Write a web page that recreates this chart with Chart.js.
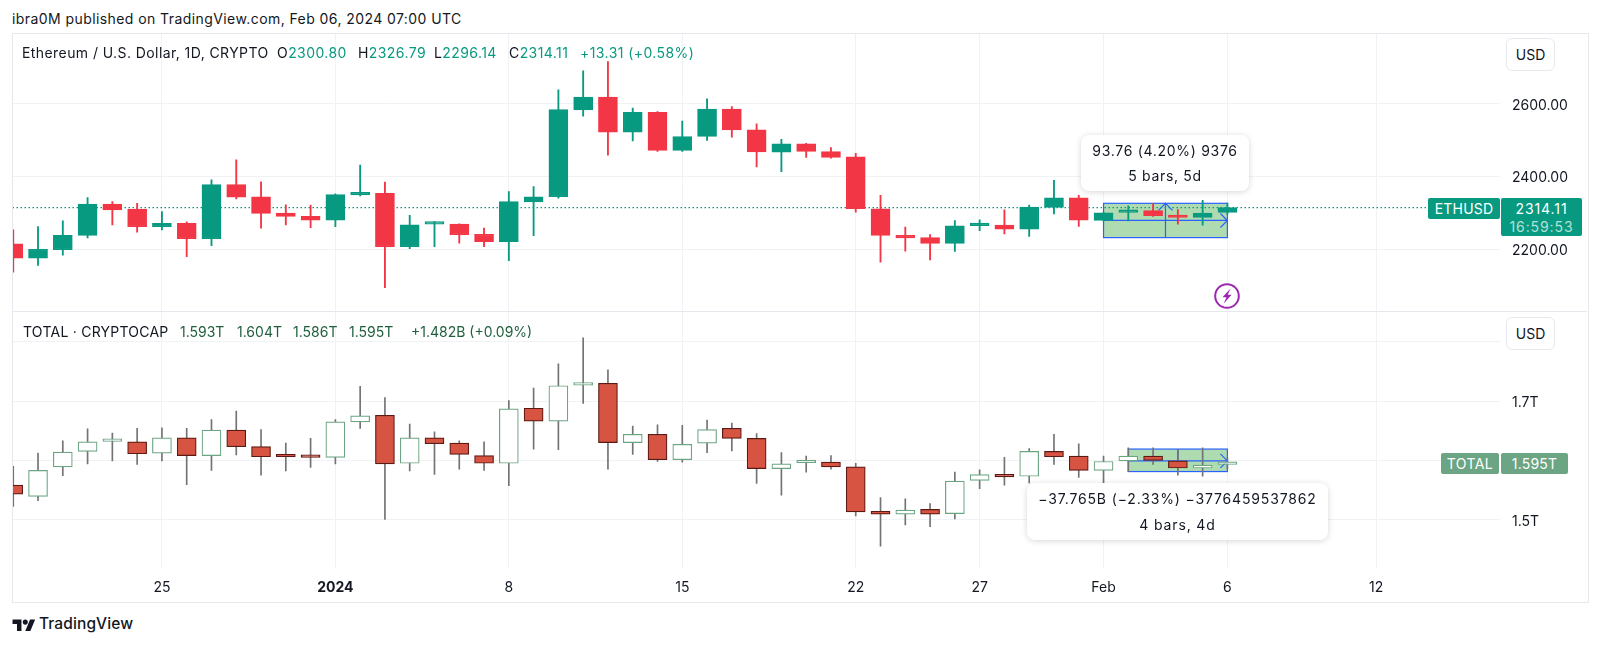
<!DOCTYPE html>
<html>
<head>
<meta charset="utf-8">
<title>ETHUSD vs TOTAL</title>
<script src="https://cdn.jsdelivr.net/npm/chart.js@4"></script>
<style>
  html, body { margin: 0; padding: 0; background: #fff; }
  body { width: 1600px; height: 646px; position: relative; overflow: hidden; font-family: Inter, "Noto Sans", sans-serif; color: #131722; font-size: 14px; }
  canvas { position: absolute; left: 0; }
  .t { position: absolute; white-space: nowrap; line-height: 18px; letter-spacing: .42px; }
  .up { color: #089981; }
  .dk { color: #1f5f3d; letter-spacing: 0; }
  .frame { position: absolute; left: 12px; top: 33px; width: 1575px; height: 568px; border: 1px solid #e6e8ee; box-sizing: content-box; }
  .sep { position: absolute; left: 12px; top: 311px; width: 1575px; height: 1px; background: #e6e8ee; }
  .usd { position: absolute; left: 1506px; width: 47px; height: 31px; border: 1px solid #e6e8ee; border-radius: 6px; text-align: center; line-height: 31px; background: #fff; }
  .pill { position: absolute; color: #fff; text-align: center; border-radius: 2px; }
  .tip { position: absolute; background: #fff; border-radius: 8px; box-shadow: 0 1px 6px rgba(0,0,0,.16); text-align: center; }
  .tip div { position: absolute; left: 0; right: 0; line-height: 18px; }
</style>
</head>
<body>
<div class="t" style="left:12px;top:10px">ibra0M published on TradingView.com, Feb 06, 2024 07:00 UTC</div>

<canvas id="ethChart" width="1587" height="279" style="top:33px"></canvas>
<canvas id="totalChart" width="1587" height="290" style="top:312px"></canvas>
<div class="frame"></div>
<div class="sep"></div>

<div class="t" style="left:22px;top:44px">Ethereum / U.S. Dollar, 1D, CRYPTO</div>
<div class="t" style="left:277px;top:44px">O<span class="up">2300.80</span></div>
<div class="t" style="left:358px;top:44px">H<span class="up">2326.79</span></div>
<div class="t" style="left:434px;top:44px">L<span class="up">2296.14</span></div>
<div class="t" style="left:509px;top:44px">C<span class="up">2314.11</span></div>
<div class="t up" style="left:580px;top:44px">+13.31 (+0.58%)</div>

<div class="t" style="left:23px;top:323px;letter-spacing:.24px">TOTAL · CRYPTOCAP</div>
<div class="t dk" style="left:180px;top:323px">1.593T</div>
<div class="t dk" style="left:237px;top:323px">1.604T</div>
<div class="t dk" style="left:293px;top:323px">1.586T</div>
<div class="t dk" style="left:349px;top:323px">1.595T</div>
<div class="t dk" style="left:411px;top:323px">+1.482B (+0.09%)</div>

<div class="usd" style="top:38px">USD</div>
<div class="usd" style="top:317px">USD</div>

<div class="pill" style="left:1428px;top:198px;width:72px;height:21px;line-height:21px;background:#089981;letter-spacing:.2px">ETHUSD</div>
<div class="pill" style="left:1501px;top:198px;width:81px;height:38px;background:#089981;letter-spacing:.9px">
  <div style="line-height:21px">2314.11</div>
  <div style="line-height:16px;color:#b5e0d6">16:59:53</div>
</div>
<div class="pill" style="left:1441px;top:453px;width:58px;height:21px;line-height:21px;background:#6ba583;letter-spacing:.4px">TOTAL</div>
<div class="pill" style="left:1501px;top:453px;width:67px;height:21px;line-height:21px;background:#6ba583;letter-spacing:.2px">1.595T</div>

<div class="tip" style="left:1081px;top:135px;width:168px;height:56px;letter-spacing:.7px">
  <div style="top:7px">93.76 (4.20%) 9376</div>
  <div style="top:32px">5 bars, 5d</div>
</div>
<div class="tip" style="left:1027px;top:483px;width:301px;height:57px;letter-spacing:.85px">
  <div style="top:7px">−37.765B (−2.33%) −3776459537862</div>
  <div style="top:33px">4 bars, 4d</div>
</div>

<svg style="position:absolute;left:1214px;top:283px" width="26" height="26" viewBox="0 0 26 26">
  <circle cx="13" cy="13" r="11.8" fill="#fff" stroke="#9c27b0" stroke-width="2"/>
  <path d="M16.5 5.5 L8.5 14.2 H12.4 L9.8 20.5 L17.6 11.8 H13.7 Z" fill="#9c27b0"/>
</svg>

<svg style="position:absolute;left:12px;top:617px" width="24" height="14" viewBox="0 0 36 22">
  <path d="M14 22H7V11H0V4h14v18zM28 22h-8l7.5-18h8L28 22z" fill="#131722"/>
  <circle cx="20" cy="8" r="4" fill="#131722"/>
</svg>
<div class="t" style="left:39px;top:615px;font-size:15.5px;font-weight:500;letter-spacing:.1px">TradingView</div>

<script>
const dates = ['Dec 19','Dec 20','Dec 21','Dec 22','Dec 23','Dec 24','Dec 25','Dec 26','Dec 27','Dec 28','Dec 29','Dec 30','Dec 31',
  'Jan 1','Jan 2','Jan 3','Jan 4','Jan 5','Jan 6','Jan 7','Jan 8','Jan 9','Jan 10','Jan 11','Jan 12','Jan 13','Jan 14','Jan 15','Jan 16',
  'Jan 17','Jan 18','Jan 19','Jan 20','Jan 21','Jan 22','Jan 23','Jan 24','Jan 25','Jan 26','Jan 27','Jan 28','Jan 29','Jan 30','Jan 31',
  'Feb 1','Feb 2','Feb 3','Feb 4','Feb 5','Feb 6'];

// x axis labels, position is the bar index (Feb 12 sits past the last bar)
const timeTickIdx = [6, 13, 20, 27, 34, 39, 44, 49, 55];
const timeTickLabels = ['25', '2024', '8', '15', '22', '27', 'Feb', '6', '12'];

const ethOpen = [2215,2176,2199,2238,2324,2310,2262,2271,2229,2377,2344,2299,2290,2280,2349,2353,2207,2269,2269,2241,2221,2330,2344,2582,2617,2521,2575,2471,2509,2584,2527,2466,2489,2468,2453,2311,2238,2232,2216,2265,2266,2255,2315,2341,2279,2301,2306,2292,2287,2300.80];
const ethHigh = [2253,2262,2278,2342,2331,2326,2303,2275,2390,2445,2385,2322,2321,2352,2431,2384,2293,2276,2270,2258,2358,2372,2637,2689,2714,2587,2577,2551,2612,2591,2544,2501,2490,2479,2463,2348,2261,2240,2279,2281,2308,2321,2389,2348,2301,2319,2325,2309,2334,2326.79];
const ethLow = [2137,2156,2184,2231,2267,2247,2253,2180,2210,2338,2258,2267,2259,2262,2346,2095,2202,2207,2217,2207,2169,2237,2340,2565,2458,2497,2468,2468,2498,2507,2426,2413,2452,2450,2302,2165,2195,2171,2194,2251,2242,2235,2297,2263,2278,2278,2290,2269,2266,2296.14];
const ethClose = [2176,2200,2238,2324,2308,2262,2271,2229,2377,2343,2298,2290,2280,2350,2354,2207,2267,2273,2240,2221,2331,2344,2583,2617,2521,2575,2471,2509,2584,2527,2467,2489,2468,2452,2311,2238,2231,2216,2264,2269,2255,2316,2341,2280,2300,2306,2292,2287,2299,2314.11];
const ethLast = 2314.11;

// TOTAL market cap, in billions
const totalOpen = [1558,1539,1589,1615,1632,1631,1612,1638,1608,1651,1623,1608,1607,1605,1665,1676,1595,1638,1629,1608,1595,1688,1666,1727,1730,1630,1644,1601,1629,1654,1637,1586,1596,1597,1589,1514,1509,1517,1510,1566,1576,1573,1615,1607,1583,1599,1607,1599,1587,1593];
const totalHigh = [1590,1612,1633,1653,1646,1654,1655,1654,1669,1683,1652,1629,1637,1669,1725,1706,1661,1648,1633,1631,1701,1722,1763,1807,1753,1658,1660,1659,1668,1663,1645,1613,1607,1608,1595,1537,1535,1527,1580,1584,1605,1620,1644,1628,1607,1621,1621,1618,1621,1604];
const totalLow = [1522,1532,1574,1594,1599,1593,1599,1559,1583,1609,1575,1582,1588,1594,1654,1500,1582,1576,1585,1583,1557,1619,1618,1696,1585,1610,1598,1597,1613,1616,1561,1541,1580,1585,1506,1455,1491,1488,1501,1552,1558,1562,1593,1571,1556,1581,1593,1575,1573,1586];
const totalClose = [1543,1583,1614,1631,1633,1611,1638,1608,1651,1623,1606,1606,1605,1665,1675,1594,1638,1628,1610,1595,1687,1666,1726,1729,1630,1644,1601,1627,1652,1637,1586,1594,1597,1589,1513,1509,1516,1509,1565,1576,1572,1615,1606,1583,1598,1607,1600,1587,1592,1595];

const ethTicks = [2200, 2400, 2600];
const totalTicks = [1500, 1600, 1700, 1800];
const totalLabelled = [1500, 1700];

// measure tools: first bar, last bar, low, high, arrow bar, arrow level
const ethMeasure = [44, 49, 2232, 2326, 46.5, 2279];
const totalMeasure = [45, 49, 1581, 1619, 47, 1599];

const GRID = '#f0f2f6';
const TEXT = '#131722';
const X_MIN = -0.03;
const X_MAX = 60;

function wickData(lows, highs) {
  return dates.map((d, i) => ({ x: i, y: [lows[i], highs[i]] }));
}
function bodyData(opens, closes) {
  return dates.map((d, i) => ({ x: i, y: [opens[i], closes[i]] }));
}

// The long position box behind the candles
function measurePlugin(m, hasUpArrow) {
  return {
    id: 'measure',
    beforeDatasetsDraw(chart) {
      const { x, y } = chart.scales;
      const c = chart.ctx;
      const l = x.getPixelForValue(m[0]), r = x.getPixelForValue(m[1]);
      const b = y.getPixelForValue(m[2]), t = y.getPixelForValue(m[3]);
      const ax = x.getPixelForValue(m[4]), ay = y.getPixelForValue(m[5]);
      c.save();
      c.fillStyle = 'rgba(76,175,80,0.45)';
      c.fillRect(l, t, r - l, b - t);
      c.strokeStyle = '#2962ff';
      c.lineWidth = 1.2;
      c.strokeRect(l, t, r - l, b - t);
      c.beginPath();
      c.moveTo(l, ay); c.lineTo(r, ay);
      c.moveTo(r - 7, ay - 7); c.lineTo(r, ay); c.lineTo(r - 7, ay + 7);
      c.moveTo(ax, t);
      c.lineTo(ax, hasUpArrow ? b : ay);
      if (hasUpArrow) {
        c.moveTo(ax - 7, t + 7); c.lineTo(ax, t); c.lineTo(ax + 7, t + 7);
      }
      c.stroke();
      c.restore();
    }
  };
}

// axis label padding would otherwise shrink the plot area
function noScalePadding(s) {
  s.paddingTop = 0;
  s.paddingBottom = 0;
  s.paddingLeft = 0;
  s.paddingRight = 0;
}

function candleChart(id, cfg) {
  const up = dates.map((d, i) => cfg.close[i] >= cfg.open[i]);
  const datasets = [
    {
      data: wickData(cfg.low, cfg.high),
      backgroundColor: up.map(u => u ? cfg.wickUp : cfg.wickDown),
      borderWidth: 0,
      barThickness: cfg.wickWidth,
      grouped: false,
      order: 2
    },
    {
      data: bodyData(cfg.open, cfg.close),
      backgroundColor: up.map(u => u ? cfg.bodyUp : cfg.bodyDown),
      borderColor: up.map(u => u ? cfg.borderUp : cfg.borderDown),
      borderWidth: 1.2,
      borderSkipped: false,
      barThickness: 19,
      minBarLength: 2.5,
      grouped: false,
      order: 1
    }
  ];
  if (cfg.last) {
    datasets.push({
      type: 'line',
      data: [{ x: X_MIN, y: cfg.last }, { x: X_MAX, y: cfg.last }],
      borderColor: '#089981',
      borderWidth: 1.2,
      borderDash: [1.5, 2.5],
      pointRadius: 0,
      order: 3
    });
  }
  return new Chart(document.getElementById(id), {
    type: 'bar',
    data: { datasets },
    plugins: [measurePlugin(cfg.measure, cfg.upArrow)],
    options: {
      responsive: false,
      animation: false,
      layout: { padding: { left: 12.5 } },
      plugins: { legend: { display: false }, tooltip: { enabled: false } },
      scales: {
        x: {
          type: 'linear',
          offset: false,
          min: X_MIN,
          max: X_MAX,
          afterFit: s => { s.height = cfg.timeAxis ? 34 : 0; noScalePadding(s); },
          afterBuildTicks: s => { s.ticks = timeTickIdx.map(v => ({ value: v })); },
          border: { display: false },
          grid: { color: GRID, drawTicks: false, offset: false },
          ticks: {
            display: cfg.timeAxis,
            autoSkip: false,
            maxRotation: 0,
            padding: 11,
            color: TEXT,
            callback: v => timeTickLabels[timeTickIdx.indexOf(v)],
            font: ctx => ({ family: 'Inter', size: 14, weight: ctx.tick && ctx.tick.value === 13 ? '700' : '400' })
          }
        },
        y: {
          position: 'right',
          min: cfg.min,
          max: cfg.max,
          afterFit: s => { s.width = 87; noScalePadding(s); },
          afterBuildTicks: s => { s.ticks = cfg.ticks.map(v => ({ value: v })); },
          border: { display: false },
          grid: { color: GRID, drawTicks: false },
          ticks: {
            padding: 12,
            labelOffset: 2,
            color: TEXT,
            font: { family: 'Inter', size: 14 },
            callback: cfg.tickLabel
          }
        }
      }
    }
  });
}

candleChart('ethChart', {
  open: ethOpen, high: ethHigh, low: ethLow, close: ethClose, last: ethLast,
  wickUp: '#089981', wickDown: '#f23645', wickWidth: 1.2,
  bodyUp: '#089981', bodyDown: '#f23645',
  borderUp: '#089981', borderDown: '#f23645',
  min: 2028.2, max: 2792.6, ticks: ethTicks,
  tickLabel: v => v.toFixed(2),
  measure: ethMeasure, upArrow: true, timeAxis: false
});

candleChart('totalChart', {
  open: totalOpen, high: totalHigh, low: totalLow, close: totalClose,
  wickUp: '#737375', wickDown: '#737375', wickWidth: 1,
  bodyUp: '#ffffff', bodyDown: '#d75442',
  borderUp: '#6ba583', borderDown: '#5b1a13',
  min: 1418.1, max: 1850.5, ticks: totalTicks,
  tickLabel: v => totalLabelled.includes(v) ? (v / 1000).toFixed(1) + 'T' : '',
  measure: totalMeasure, upArrow: false, timeAxis: true
});
</script>
</body>
</html>
